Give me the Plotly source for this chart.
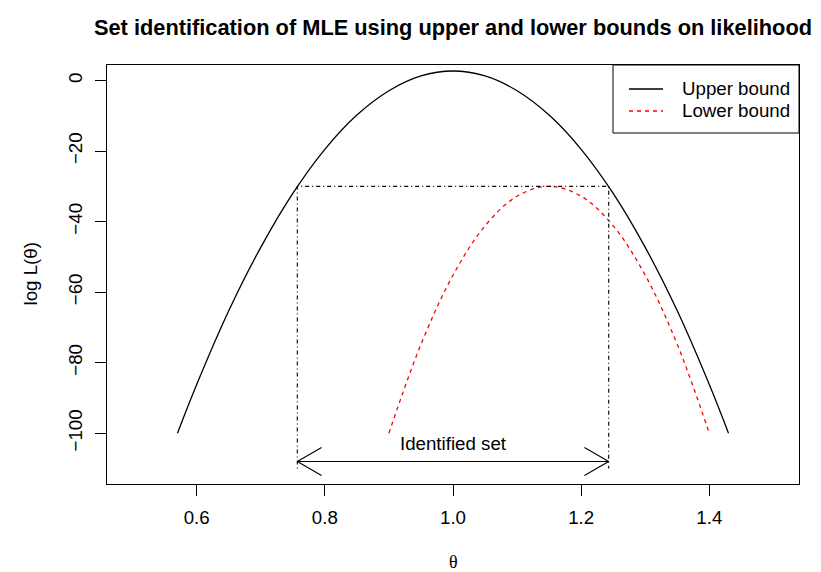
import math
import plotly.graph_objects as go

# Upper bound on the log-likelihood
theta_upper = [0.57, 0.60, 0.65, 0.70, 0.75, 0.80, 0.85, 0.90, 0.95, 1.00,
               1.05, 1.10, 1.15, 1.20, 1.25, 1.30, 1.35, 1.40, 1.43]
loglik_upper = [-100.0, -86.2, -65.3, -47.3, -32.0, -19.5, -9.8, -2.9, 1.3, 2.7,
                1.3, -2.9, -9.8, -19.5, -32.0, -47.3, -65.3, -86.2, -100.0]

# Lower bound on the log-likelihood
theta_lower = [0.90, 0.95, 1.00, 1.05, 1.10, 1.15, 1.20, 1.25, 1.30, 1.35, 1.40]
loglik_lower = [-100.0, -74.8, -55.2, -41.2, -32.8, -30.0, -32.8, -41.2, -55.2, -74.8, -100.0]

# Identified set: where the upper bound exceeds the max of the lower bound
set_bounds = [0.757, 1.243]
max_lower = -30.0
set_floor = -110.0
arrow_level = -108.0
set_label = "Identified set"
label_level = -103.0

x_ticks = [0.6, 0.8, 1.0, 1.2, 1.4]
y_ticks = [-100, -80, -60, -40, -20, 0]
x_range = [0.46, 1.54]
y_range = [-114.4, 4.4]

FONT = "Liberation Sans, Arial, Helvetica, sans-serif"
W, H = 821, 572
M = dict(l=107, r=22, t=65, b=88)
plot_w = W - M["l"] - M["r"]
plot_h = H - M["t"] - M["b"]

fig = go.Figure()

fig.add_trace(go.Scatter(x=theta_upper, y=loglik_upper, mode="lines",
                         line=dict(color="black", width=1.3, shape="spline"),
                         name="Upper bound", showlegend=False))
fig.add_trace(go.Scatter(x=theta_lower, y=loglik_lower, mode="lines",
                         line=dict(color="#FF0000", width=1.3, dash="4px,4px", shape="spline"),
                         name="Lower bound", showlegend=False))

# Dot-dash frame around the identified set
lo, hi = set_bounds
fig.add_trace(go.Scatter(x=[lo, lo, hi, hi], y=[set_floor, max_lower, max_lower, set_floor],
                         mode="lines", line=dict(color="black", width=1.1, dash="1px,3px,4px,3px"),
                         showlegend=False, hoverinfo="skip"))

# Double-headed arrow spanning the identified set
head_len_px, head_angle = 28.0, 30.0
hx = head_len_px * math.cos(math.radians(head_angle)) * (x_range[1] - x_range[0]) / plot_w
hy = head_len_px * math.sin(math.radians(head_angle)) * (y_range[1] - y_range[0]) / plot_h
ax = [lo, hi, None,
      lo + hx, lo, lo + hx, None,
      hi - hx, hi, hi - hx]
ay = [arrow_level, arrow_level, None,
      arrow_level + hy, arrow_level, arrow_level - hy, None,
      arrow_level + hy, arrow_level, arrow_level - hy]
fig.add_trace(go.Scatter(x=ax, y=ay, mode="lines", line=dict(color="black", width=1.1),
                         showlegend=False, hoverinfo="skip"))

fig.add_annotation(x=(lo + hi) / 2, y=label_level, text=set_label, showarrow=False,
                   font=dict(family=FONT, size=18.7, color="black"),
                   xanchor="center", yanchor="middle")

# Legend box drawn in the upper-right corner of the plot
leg_x0, leg_y0 = (613 - M["l"]) / plot_w, (H - M["b"] - 133) / plot_h
fig.add_shape(type="rect", xref="x domain", yref="y domain", x0=leg_x0, x1=1.0, y0=leg_y0, y1=1.0,
              line=dict(color="black", width=1), fillcolor="white", layer="above")
legend_items = [("Upper bound", "black", "solid", 89), ("Lower bound", "#FF0000", "4px,4px", 111)]
for name, color, dash, ypx in legend_items:
    yy = (H - M["b"] - ypx) / plot_h
    fig.add_shape(type="line", xref="x domain", yref="y domain",
                  x0=(629 - M["l"]) / plot_w, x1=(663 - M["l"]) / plot_w, y0=yy, y1=yy,
                  line=dict(color=color, width=1.3, dash=dash), layer="above")
    fig.add_annotation(xref="x domain", yref="y domain", x=(680 - M["l"]) / plot_w, y=yy,
                       text=name, showarrow=False, xanchor="left", yanchor="middle",
                       font=dict(family=FONT, size=18.7, color="black"))

# Axis titles
fig.add_annotation(xref="paper", yref="paper", x=0.5, y=(H - M["b"] - 562) / plot_h,
                   text="θ", showarrow=False, xanchor="center", yanchor="middle",
                   font=dict(family="Liberation Serif, DejaVu Serif, serif", size=18, color="black"))
fig.add_annotation(xref="paper", yref="paper", x=(30 - M["l"]) / plot_w, y=0.5,
                   text="log L(θ)", showarrow=False, textangle=-90, xanchor="center", yanchor="middle",
                   font=dict(family=FONT, size=18.7, color="black"))

axis_common = dict(showgrid=False, zeroline=False, showline=True, mirror=True,
                   linecolor="black", linewidth=1, ticks="outside", ticklen=11,
                   tickwidth=1, tickcolor="black",
                   tickfont=dict(family=FONT, size=18.7, color="black"))
fig.update_xaxes(range=x_range, tickvals=x_ticks, ticktext=[f"{v:.1f}" for v in x_ticks],
                 ticklabelstandoff=6, **axis_common)
fig.update_yaxes(range=y_range, tickvals=y_ticks, ticktext=[str(v).replace("-", "\u2212") for v in y_ticks],
                 tickangle=-90, ticklabelstandoff=6, **axis_common)

fig.update_layout(
    width=W, height=H, margin=M,
    paper_bgcolor="white", plot_bgcolor="white",
    title=dict(text="<b>Set identification of MLE using upper and lower bounds on likelihood</b>",
               x=(M["l"] + plot_w / 2) / W, xanchor="center", y=1 - 27 / H, yanchor="middle",
               font=dict(family=FONT, size=21.8, color="black")),
    showlegend=False,
)

fig.write_html("out.html")
